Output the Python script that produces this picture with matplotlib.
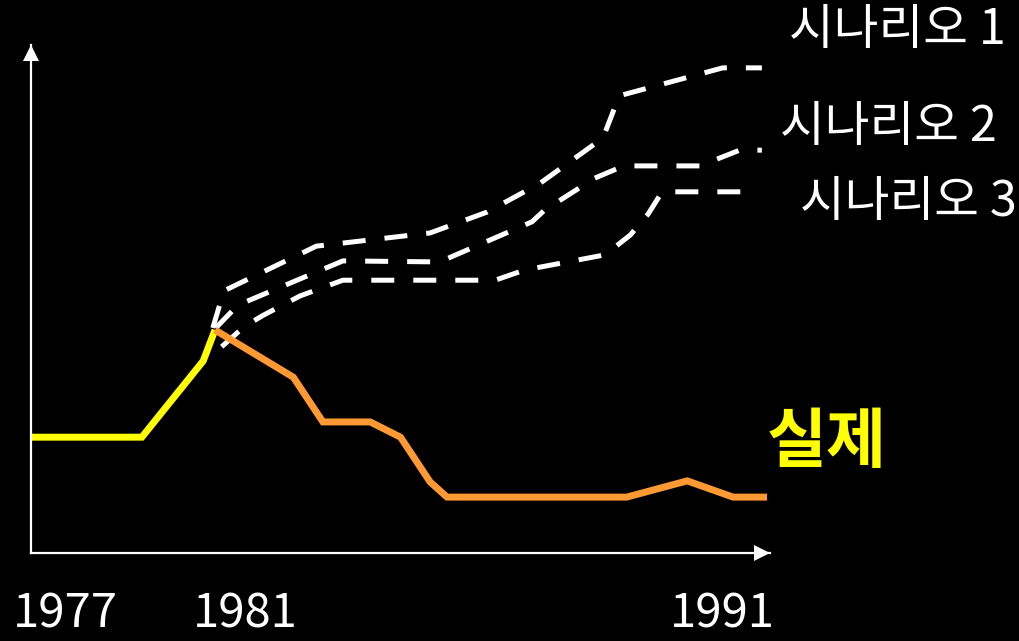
import matplotlib
matplotlib.use('Agg')
from matplotlib import pyplot as plt

plt.rcParams['font.family'] = ['Noto Sans CJK KR', 'DejaVu Sans']

# schematic values, 0-100 on both axes
actual_before_x = [0, 15.0, 23.3, 24.9]
actual_before_y = [22.8, 22.8, 37.8, 43.9]

actual_after_x = [24.9, 35.5, 39.5, 45.9, 50.0, 54.0, 56.3, 80.6, 88.8, 95.0, 99.6]
actual_after_y = [43.9, 34.6, 25.8, 25.8, 22.8, 14.0, 11.0, 11.0, 14.2, 11.0, 11.0]

scen1_x = [24.6, 26.1, 38.6, 54.0, 61.7, 68.9, 77.4, 79.6, 93.6, 98.9]
scen1_y = [44.3, 51.6, 60.4, 63.0, 67.1, 72.8, 81.7, 90.0, 95.5, 95.5]

scen2_x = [25.0, 28.0, 42.2, 55.3, 67.8, 69.5, 76.3, 80.2, 90.5, 95.9, 98.9]
scen2_y = [44.3, 48.8, 57.5, 57.3, 65.2, 67.5, 73.8, 76.2, 76.2, 79.3, 79.3]

scen3_x = [25.8, 28.8, 31.3, 36.4, 42.2, 62.8, 66.8, 77.7, 81.1, 83.5, 85.4, 97.3]
scen3_y = [40.6, 44.5, 46.7, 50.6, 53.7, 53.7, 55.7, 58.7, 62.6, 66.7, 71.1, 71.1]

year_pos = [4.7, 29.0, 93.5]
year_labels = ['1977', '1981', '1991']

scen_labels = ['시나리오 1', '시나리오 2', '시나리오 3']
scen_label_pos = [(117.2, 103.0), (116.0, 83.8), (118.8, 69.0)]
actual_label = '실제'
actual_label_pos = (107.6, 21.7)

yellow = '#FFFF00'
orange = '#FF9933'

fig = plt.figure(figsize=(10.2, 6.41), dpi=100, facecolor='black')
ax = fig.add_axes([31 / 1020, (641 - 553) / 641, (770 - 31) / 1020, (553 - 45) / 641])
ax.set_facecolor('black')
ax.set_xlim(0, 100)
ax.set_ylim(0, 100)

for sx, sy in [(scen1_x, scen1_y), (scen2_x, scen2_y), (scen3_x, scen3_y)]:
    ax.plot(sx, sy, color='white', lw=3.6, dashes=(4.6, 3.8),
            dash_capstyle='butt', clip_on=False)

ax.plot(actual_before_x, actual_before_y, color=yellow, lw=5,
        solid_joinstyle='miter', solid_capstyle='butt', clip_on=False)
ax.plot(actual_after_x, actual_after_y, color=orange, lw=5,
        solid_joinstyle='miter', solid_capstyle='butt', clip_on=False)

# axes with arrow heads
for side in ['top', 'right']:
    ax.spines[side].set_visible(False)
for side in ['left', 'bottom']:
    ax.spines[side].set_color('white')
    ax.spines[side].set_linewidth(1.6)
ax.plot(98.9, 0, '>', color='white', ms=11, mew=0, clip_on=False)
ax.plot(0, 98.4, '^', color='white', ms=11, mew=0, clip_on=False)

ax.set_yticks([])
ax.set_xticks(year_pos, year_labels)
ax.tick_params(axis='x', length=0, pad=27, labelsize=34, labelcolor='white')

for lab, (tx, ty) in zip(scen_labels, scen_label_pos):
    ax.text(tx, ty, lab, color='white', fontsize=35, ha='center', va='center', clip_on=False)
ax.text(actual_label_pos[0], actual_label_pos[1], actual_label, color=yellow,
        fontsize=47, fontweight='bold', ha='center', va='center', clip_on=False)

fig.savefig('out.png', dpi=100, facecolor='black')
